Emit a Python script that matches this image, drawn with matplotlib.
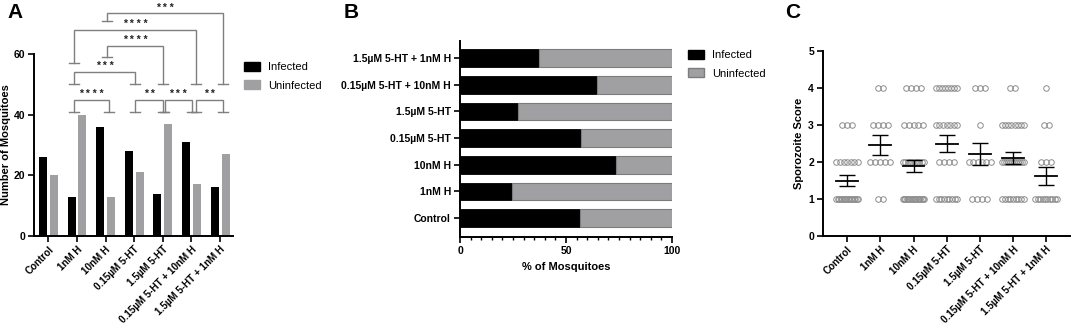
import numpy as np
import matplotlib
matplotlib.use("Agg")
import matplotlib.pyplot as plt
from matplotlib.patches import Patch

plt.rcParams['font.family'] = ['Liberation Sans', 'DejaVu Sans']
plt.rcParams['font.size'] = 7.5

# ============ Data ============
groups = ["Control", "1nM H", "10nM H", "0.15µM 5-HT", "1.5µM 5-HT",
          "0.15µM 5-HT + 10nM H", "1.5µM 5-HT + 1nM H"]
infected = [26, 13, 36, 28, 14, 31, 16]
uninfected = [20, 40, 13, 21, 37, 17, 27]

# sporozoite score counts per group, for scores 1, 2, 3, 4
score_levels = [1, 2, 3, 4]
score_counts = [
    [16, 7, 3, 0],
    [2, 5, 4, 2],
    [17, 10, 5, 4],
    [9, 4, 7, 8],
    [4, 6, 1, 3],
    [9, 12, 8, 2],
    [10, 3, 2, 1],
]

# significance brackets: left x, right x, left leg, right leg, top, label
brackets = [
    (0.90, 2.12, 41, 41, 45, "* * * *"),
    (3.02, 4.01, 41, 41, 45, "* *"),
    (4.06, 5.02, 41, 41, 45, "* * *"),
    (5.17, 6.10, 41, 41, 45, "* *"),
    (0.90, 3.02, 50, 50, 54, "* * *"),
    (2.06, 4.01, 59, 50, 62.6, "* * * *"),
    (0.90, 5.17, 57, 50, 68, "* * * *"),
    (2.06, 6.10, 71, 50, 73.4, "* * *"),
]

BLACK = "#000000"
GREY = "#a0a0a2"
GREY_EDGE = "#7c7c7c"
BRACKET = "#7f7f7f"

W, H = 1072, 328
fig = plt.figure(figsize=(W / 100, H / 100), dpi=100)


def style_axes(ax):
    for s in ["top", "right"]:
        ax.spines[s].set_visible(False)
    for s in ["left", "bottom"]:
        ax.spines[s].set_linewidth(1.4)
    ax.tick_params(width=1.2, length=4, labelsize=7.5, pad=2.5)
    for lab in ax.get_xticklabels() + ax.get_yticklabels():
        lab.set_fontweight("bold")


def rotated_labels(ax):
    ax.set_xticklabels(groups, rotation=45, ha="right", rotation_mode="anchor",
                       fontsize=7.1, fontweight="bold")
    ax.tick_params(axis="x", pad=2)


# ============ Panel A ============
axA = fig.add_axes([34 / W, (H - 236) / H, (233 - 34) / W, 182 / H])
x = np.arange(len(groups))
axA.bar(x - 0.19, infected, width=0.28, color=BLACK)
axA.bar(x + 0.19, uninfected, width=0.28, color=GREY)
axA.set_xlim(-0.5, 6.45)
axA.set_ylim(0, 60)
axA.set_yticks([0, 20, 40, 60])
axA.set_xticks(x)
style_axes(axA)
rotated_labels(axA)
axA.set_ylabel("Number of Mosquitoes", fontweight="bold", fontsize=8)
axA.yaxis.set_label_coords(-0.118, 0.5)

cap = 0.17
for x1, x2, l1, l2, top, lab in brackets:
    axA.plot([x1, x1, x2, x2], [l1, top, top, l2], color=BRACKET, lw=1,
             clip_on=False, solid_joinstyle="miter")
    axA.plot([x1 - cap, x1 + cap], [l1, l1], color=BRACKET, lw=1, clip_on=False)
    axA.plot([x2 - cap, x2 + cap], [l2, l2], color=BRACKET, lw=1, clip_on=False)
    axA.text((x1 + x2) / 2, top + 0.9, lab, ha="center", va="baseline",
             fontsize=7.5, fontweight="bold", color="#222222", clip_on=False)

fig.legend(handles=[Patch(color=BLACK, label="Infected"),
                    Patch(color=GREY, label="Uninfected")],
           loc="upper left", bbox_to_anchor=(234 / W, 1 - 52 / H),
           frameon=False, fontsize=8, handlelength=1.4, handleheight=0.9,
           handletextpad=0.8, labelspacing=0.7)

# ============ Panel B ============
axB = fig.add_axes([460 / W, (H - 237) / H, 212 / W, 196 / H])
pct_inf = [100 * i / (i + u) for i, u in zip(infected, uninfected)]
pct_un = [100 - p for p in pct_inf]
axB.barh(x, pct_inf, height=0.66, color=BLACK, edgecolor=BLACK, lw=0.6)
axB.barh(x, pct_un, left=pct_inf, height=0.66, color=GREY,
         edgecolor=GREY_EDGE, lw=0.8)
axB.set_xlim(0, 100)
axB.set_ylim(-0.71, 6.64)
axB.set_xticks([0, 50, 100])
axB.set_xticks(np.arange(0, 101, 5), minor=True)
axB.set_yticks(x)
axB.set_yticklabels(groups)
axB.set_xlabel("% of Mosquitoes", fontweight="bold", fontsize=8)
style_axes(axB)
axB.tick_params(which="minor", width=1.0, length=2.5)

fig.legend(handles=[Patch(facecolor=BLACK, edgecolor=BLACK, label="Infected"),
                    Patch(facecolor=GREY, edgecolor=GREY_EDGE, label="Uninfected")],
           loc="upper left", bbox_to_anchor=(678 / W, 1 - 40 / H),
           frameon=False, fontsize=8, handlelength=1.4, handleheight=0.9,
           handletextpad=0.8, labelspacing=0.7)

# ============ Panel C ============
axC = fig.add_axes([823 / W, (H - 236) / H, (1070 - 823) / W, 185 / H])
for g, counts in enumerate(score_counts):
    vals = []
    for lvl, n in zip(score_levels, counts):
        if n == 0:
            continue
        w = min((n - 1) * 0.15, 0.65)
        offs = np.linspace(-w / 2, w / 2, n)
        axC.plot(g + offs, [lvl] * n, "o", ms=4, mfc="none", mec="#8c8c8c",
                 mew=0.7, clip_on=False)
        vals += [lvl] * n
    vals = np.array(vals)
    mean = vals.mean()
    sem = vals.std(ddof=1) / np.sqrt(len(vals))
    axC.plot([g - 0.33, g + 0.33], [mean, mean], color=BLACK, lw=1.3)
    axC.errorbar(g, mean, yerr=sem, color=BLACK, capsize=5.5, elinewidth=1,
                 capthick=1, fmt="none")
axC.set_xlim(-0.73, 6.72)
axC.set_ylim(0, 5)
axC.set_yticks(range(6))
axC.set_xticks(x)
style_axes(axC)
rotated_labels(axC)
axC.set_ylabel("Sporozoite Score", fontweight="bold", fontsize=8)
axC.yaxis.set_label_coords(-0.075, 0.5)

# ============ Panel letters ============
for lx, letter in [(7, "A"), (344, "B"), (785, "C")]:
    fig.text(lx / W, 1 - 3 / H, letter, fontsize=15, fontweight="bold",
             va="top", ha="left")

fig.savefig("out.png", dpi=100)
